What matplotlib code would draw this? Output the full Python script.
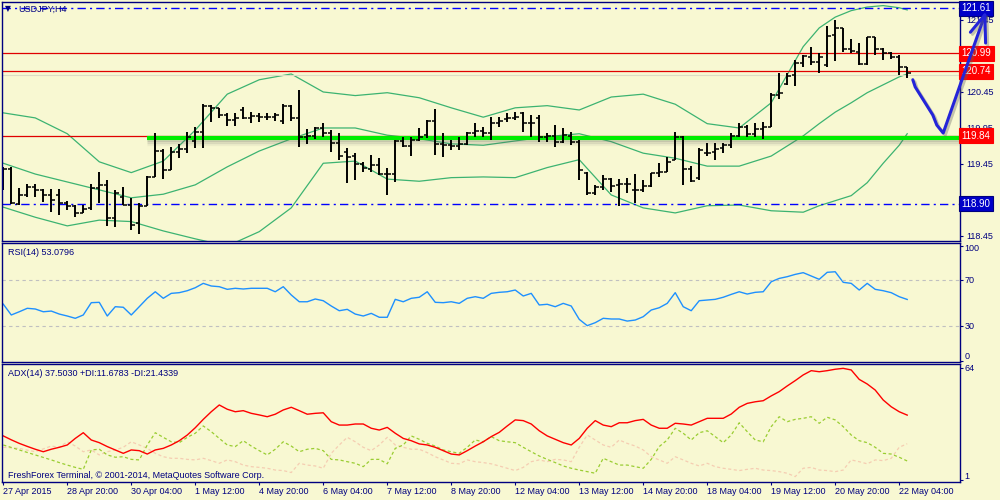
import numpy as np
import matplotlib
matplotlib.use("Agg")
import matplotlib.pyplot as plt
import matplotlib.patheffects as pe
from matplotlib.transforms import blended_transform_factory

plt.rcParams['font.family'] = ['Liberation Sans', 'DejaVu Sans']
plt.rcParams['font.size'] = 6.5

# ---- USDJPY H4 bars, 27 Apr 2015 .. 22 May 2015 ----
opens = [119.23, 119.38, 118.89, 119.02, 119.13, 119.09, 119.02, 119.02, 118.91, 118.87,
         118.77, 118.84, 119.12, 119.16, 118.70, 118.99, 118.88, 118.63, 118.87, 119.27,
         119.63, 119.37, 119.62, 119.66, 119.77, 119.89, 120.26, 120.23, 120.13, 120.06,
         120.20, 120.09, 120.12, 120.10, 120.10, 120.05, 120.26, 120.09, 119.83, 119.84,
         119.95, 119.88, 119.74, 119.62, 119.56, 119.45, 119.38, 119.44, 119.31, 119.31,
         119.77, 119.70, 119.78, 119.85, 120.05, 119.73, 119.71, 119.70, 119.73, 119.88,
         119.91, 119.88, 120.02, 120.08, 120.09, 120.16, 120.02, 120.09, 119.83, 119.84,
         119.76, 119.84, 119.76, 119.33, 119.05, 119.13, 119.24, 119.16, 119.17, 119.09,
         119.09, 119.14, 119.33, 119.34, 119.51, 119.83, 119.38, 119.26, 119.60, 119.62,
         119.67, 119.71, 119.84, 119.96, 119.87, 119.94, 119.96, 120.41, 120.56, 120.69,
         120.85, 120.94, 120.87, 120.83, 121.24, 121.34, 121.05, 121.01, 120.84, 121.21,
         121.05, 120.99, 120.94, 120.80]
highs = [119.41, 119.41, 119.12, 119.17, 119.17, 119.10, 119.10, 119.10, 118.94, 118.88,
         118.88, 119.17, 119.34, 119.23, 119.09, 119.13, 118.98, 118.91, 119.28, 119.88,
         119.66, 119.69, 119.73, 119.89, 119.96, 120.28, 120.27, 120.23, 120.16, 120.16,
         120.24, 120.17, 120.16, 120.16, 120.16, 120.28, 120.27, 120.48, 119.94, 119.96,
         120.02, 119.92, 119.88, 119.67, 119.60, 119.48, 119.58, 119.53, 119.39, 119.78,
         119.83, 119.83, 119.95, 120.06, 120.21, 119.88, 119.78, 119.83, 119.89, 120.02,
         119.96, 120.10, 120.10, 120.16, 120.17, 120.17, 120.13, 120.13, 119.88, 119.99,
         119.95, 119.89, 119.78, 119.34, 119.16, 119.30, 119.26, 119.24, 119.26, 119.31,
         119.23, 119.33, 119.46, 119.55, 119.89, 119.84, 119.42, 119.67, 119.74, 119.74,
         119.74, 119.88, 120.02, 119.99, 120.02, 120.03, 120.44, 120.71, 120.71, 120.89,
         120.96, 121.08, 120.99, 121.37, 121.45, 121.34, 121.19, 121.13, 121.21, 121.21,
         121.06, 121.01, 120.96, 120.80]
lows = [119.09, 118.89, 118.88, 118.99, 118.99, 118.92, 118.78, 118.74, 118.81, 118.71,
        118.77, 118.81, 118.91, 118.59, 118.58, 118.88, 118.53, 118.48, 118.87, 119.27,
        119.24, 119.37, 119.53, 119.60, 119.67, 119.67, 120.03, 120.09, 119.98, 119.98,
        120.08, 120.02, 120.03, 120.06, 120.05, 120.01, 120.05, 119.69, 119.73, 119.80,
        119.83, 119.62, 119.51, 119.19, 119.23, 119.34, 119.34, 119.30, 119.02, 119.20,
        119.69, 119.56, 119.77, 119.81, 119.58, 119.55, 119.64, 119.64, 119.71, 119.83,
        119.83, 119.78, 119.96, 120.03, 120.06, 119.89, 119.83, 119.76, 119.76, 119.69,
        119.74, 119.71, 119.23, 119.02, 119.02, 119.09, 119.06, 118.87, 119.05, 118.91,
        119.06, 119.13, 119.27, 119.34, 119.51, 119.16, 119.20, 119.23, 119.56, 119.51,
        119.60, 119.67, 119.83, 119.83, 119.83, 119.80, 119.96, 120.35, 120.55, 120.53,
        120.80, 120.83, 120.71, 120.80, 120.88, 121.01, 120.99, 120.83, 120.83, 120.96,
        120.89, 120.91, 120.69, 120.64]
closes = [119.38, 118.91, 119.02, 119.13, 119.09, 119.02, 118.95, 118.91, 118.87, 118.77,
          118.83, 119.12, 119.16, 118.70, 119.05, 118.88, 118.60, 118.87, 119.27, 119.63,
          119.37, 119.62, 119.66, 119.83, 119.89, 120.26, 120.23, 120.13, 120.06, 120.09,
          120.09, 120.12, 120.10, 120.10, 120.13, 120.26, 120.09, 119.83, 119.84, 119.95,
          119.88, 119.74, 119.56, 119.55, 119.45, 119.39, 119.44, 119.31, 119.31, 119.77,
          119.70, 119.78, 119.83, 120.05, 119.73, 119.71, 119.70, 119.73, 119.88, 119.91,
          119.88, 120.02, 120.05, 120.09, 120.10, 120.02, 120.02, 119.83, 119.84, 119.76,
          119.85, 119.76, 119.37, 119.05, 119.13, 119.24, 119.14, 119.17, 119.17, 119.09,
          119.14, 119.33, 119.34, 119.48, 119.83, 119.38, 119.21, 119.64, 119.60, 119.66,
          119.71, 119.84, 119.96, 119.87, 119.94, 119.96, 120.41, 120.44, 120.67, 120.85,
          120.95, 120.87, 120.94, 121.23, 121.34, 121.05, 121.02, 120.84, 121.21, 121.05,
          120.99, 120.94, 120.80, 120.71]

# Bollinger bands at these bar numbers
band_idx = [0, 4, 8, 12, 16, 20, 24, 28, 32, 36, 40, 44, 48, 52, 56, 60, 64, 68, 72, 76,
            80, 84, 88, 92, 96, 100, 102, 104, 106, 108, 110, 112, 113]
bb_upper = [120.16, 120.09, 119.87, 119.48, 119.33, 119.49, 119.92, 120.42, 120.62, 120.70,
            120.45, 120.40, 120.44, 120.37, 120.23, 120.10, 120.23, 120.26, 120.20, 120.38,
            120.42, 120.28, 120.01, 119.95, 120.30, 121.08, 121.34, 121.49, 121.58, 121.63,
            121.65, 121.62, 121.59]
bb_middle = [119.46, 119.31, 119.20, 119.09, 118.98, 119.03, 119.16, 119.41, 119.63, 119.80,
             119.95, 119.95, 119.85, 119.80, 119.73, 119.71, 119.77, 119.83, 119.87, 119.76,
             119.60, 119.53, 119.42, 119.42, 119.56, 119.84, 120.01, 120.17, 120.30, 120.44,
             120.55, 120.66, 120.70]
bb_lower = [118.85, 118.71, 118.59, 118.67, 118.65, 118.52, 118.41, 118.31, 118.51, 118.84,
            119.46, 119.49, 119.24, 119.21, 119.26, 119.27, 119.26, 119.40, 119.51, 119.02,
            118.84, 118.77, 118.87, 118.88, 118.80, 118.78, 118.87, 118.94, 119.01, 119.19,
            119.46, 119.71, 119.87]

rsi = [49.0, 39.6, 42.4, 45.4, 44.8, 42.4, 43.0, 40.4, 38.7, 36.7,
       39.6, 50.3, 50.6, 38.7, 46.8, 46.3, 39.6, 46.8, 54.1, 59.8,
       54.1, 58.4, 59.0, 60.7, 63.3, 67.1, 64.8, 64.2, 61.9, 62.8,
       62.2, 62.8, 62.8, 62.8, 59.8, 64.2, 57.0, 51.1, 51.1, 53.5,
       52.0, 47.4, 43.3, 44.5, 40.4, 38.7, 41.0, 37.6, 37.6, 53.2,
       51.1, 54.1, 55.0, 59.8, 50.6, 50.3, 51.1, 49.7, 54.1, 55.5,
       54.1, 58.4, 59.3, 59.8, 61.3, 56.1, 58.4, 48.3, 48.9, 46.8,
       49.7, 47.4, 35.8, 30.3, 32.9, 36.7, 36.1, 36.1, 34.3, 35.2,
       38.1, 43.9, 45.9, 49.7, 59.0, 46.8, 43.3, 52.0, 52.6, 53.2,
       55.0, 57.5, 59.8, 57.8, 59.3, 59.8, 68.5, 71.4, 72.9, 74.9,
       76.4, 73.5, 70.6, 76.7, 77.2, 68.0, 67.1, 61.3, 67.1, 61.9,
       60.7, 59.0, 55.5, 53.1]

adx = [25.8, 23.6, 21.6, 19.9, 18.3, 16.9, 18.3, 19.4, 20.7, 24.4,
       27.6, 23.5, 22.0, 19.8, 17.9, 16.0, 17.9, 17.5, 15.6, 17.9,
       18.8, 20.7, 23.1, 26.3, 30.4, 35.1, 39.4, 43.2, 40.8, 39.4,
       40.0, 38.5, 37.6, 36.6, 38.0, 40.4, 41.9, 40.0, 38.0, 38.5,
       38.8, 33.8, 31.9, 31.9, 32.5, 32.5, 30.1, 29.1, 30.6, 27.3,
       24.4, 23.1, 21.3, 20.7, 19.4, 17.5, 15.6, 15.1, 17.5, 20.1,
       22.5, 25.4, 27.8, 31.4, 34.8, 34.4, 32.5, 28.7, 25.8, 23.9,
       22.0, 20.7, 24.4, 30.1, 34.4, 31.9, 31.0, 33.2, 33.2, 34.4,
       35.1, 31.9, 30.1, 30.1, 32.9, 32.5, 31.9, 33.8, 35.7, 35.7,
       35.7, 38.1, 41.9, 44.1, 45.0, 45.6, 48.3, 50.7, 53.9, 56.9,
       60.1, 62.5, 61.9, 62.5, 63.3, 63.8, 62.9, 57.6, 55.0, 51.6,
       46.0, 42.2, 39.4, 37.5]
plus_di = [20.7, 19.3, 17.9, 16.5, 15.1, 13.7, 12.3, 10.8, 9.4, 8.1,
           7.0, 17.9, 18.3, 15.1, 13.8, 14.1, 12.6, 12.3, 20.7, 27.6,
           25.0, 22.5, 22.0, 25.0, 27.3, 31.4, 28.2, 24.4, 20.7, 19.8,
           23.1, 20.1, 17.5, 15.1, 18.3, 22.5, 20.1, 16.9, 18.3, 18.8,
           17.5, 12.6, 12.3, 11.3, 10.4, 8.5, 12.6, 12.6, 10.1, 18.8,
           20.7, 25.8, 23.9, 21.6, 20.1, 17.9, 16.9, 16.0, 19.4, 23.5,
           22.5, 25.4, 23.1, 22.5, 22.0, 19.4, 16.9, 14.5, 12.6, 10.8,
           8.9, 7.6, 6.6, 5.7, 4.8, 13.2, 11.3, 9.4, 9.4, 8.5,
           7.6, 12.6, 19.8, 23.5, 30.1, 27.3, 23.5, 27.6, 28.7, 25.4,
           22.0, 26.3, 33.2, 28.2, 23.5, 22.5, 31.0, 36.6, 33.8, 35.1,
           35.7, 36.6, 32.9, 36.3, 34.8, 31.0, 26.3, 23.1, 22.0, 19.4,
           16.0, 15.6, 13.8, 11.7]
minus_di = [19.4, 19.1, 18.8, 17.8, 16.9, 18.5, 20.1, 19.4, 22.5, 20.1,
            16.9, 17.9, 15.1, 16.9, 17.9, 19.4, 22.5, 20.7, 18.8, 16.0,
            14.1, 13.2, 13.2, 12.6, 12.3, 13.2, 11.9, 10.4, 12.3, 11.3,
            9.4, 8.5, 8.1, 7.6, 6.6, 6.3, 5.2, 10.4, 9.4, 8.9,
            7.6, 16.0, 20.7, 25.0, 22.5, 19.4, 17.5, 20.7, 25.0, 20.7,
            19.4, 18.3, 18.3, 16.4, 14.1, 12.3, 10.4, 10.1, 12.3, 11.3,
            10.8, 10.1, 8.9, 7.6, 6.3, 8.1, 11.3, 12.3, 11.3, 12.6,
            12.3, 11.3, 19.4, 26.3, 23.5, 20.7, 19.4, 23.5, 21.6, 20.1,
            17.9, 14.1, 12.3, 10.4, 14.1, 12.3, 10.4, 8.9, 10.4, 8.5,
            7.6, 7.0, 6.3, 7.0, 7.6, 6.6, 6.3, 5.7, 4.8, 2.9,
            7.6, 8.1, 6.6, 6.3, 5.7, 6.6, 12.3, 11.3, 10.1, 12.3,
            11.9, 13.2, 19.4, 21.4]

time_ticks = [0, 8, 16, 24, 32, 40, 48, 56, 64, 72, 80, 88, 96, 104, 112]
time_labels = ["27 Apr 2015", "28 Apr 20:00", "30 Apr 04:00", "1 May 12:00", "4 May 20:00",
               "6 May 04:00", "7 May 12:00", "8 May 20:00", "12 May 04:00", "13 May 12:00",
               "14 May 20:00", "18 May 04:00", "19 May 12:00", "20 May 20:00", "22 May 04:00"]
price_ticks = [118.45, 118.95, 119.45, 119.95, 120.45, 120.95, 121.45]

# horizontal levels
blue_levels = [121.61, 118.90]
red_levels = [120.99, 120.74, 119.84]
support = 119.81
support_start = 18

# hand drawn forecast arrow (bar number, price)
arrow_x = [113.7, 114.0, 116.2, 116.7, 117.5, 122.7]
arrow_y = [120.62, 120.52, 120.13, 119.99, 119.88, 121.52]
head_x = [120.9, 122.7, 122.8]
head_y = [121.28, 121.52, 121.13]

BG = '#f8f8d2'
NAVY = '#000080'
XLIM = (-0.16, 119.6)

fig = plt.figure(figsize=(10, 5), dpi=100, facecolor=BG)
ax = fig.add_axes([0.002, 0.518, 0.958, 0.478])
ax_rsi = fig.add_axes([0.002, 0.276, 0.958, 0.238])
ax_adx = fig.add_axes([0.002, 0.036, 0.958, 0.236])

for a in (ax, ax_rsi, ax_adx):
    a.set_facecolor(BG)
    a.set_xlim(*XLIM)
    for s in a.spines.values():
        s.set_color(NAVY)
        s.set_linewidth(1.0)
    a.yaxis.tick_right()
    a.tick_params(axis='y', direction='out', length=2.4, width=0.8, color=NAVY,
                  labelcolor=NAVY, pad=2)
    a.tick_params(axis='x', bottom=False, labelbottom=False)

# ---- price panel ----
x = np.arange(len(closes))
ax.plot(band_idx, bb_upper, color='#3cb371', lw=0.9)
ax.plot(band_idx, bb_middle, color='#3cb371', lw=0.9)
ax.plot(band_idx, bb_lower, color='#3cb371', lw=0.9)

for lv in blue_levels:
    ax.axhline(lv, color='#0000ff', lw=1.0, ls=(0, (6, 3, 1.5, 3)))
for lv in red_levels:
    ax.axhline(lv, color='#e00000', lw=0.9)
ax.axhline(120.69, color='#dcdcc4', lw=0.8)

# soft shadow under the support line
for off, al in ((-1.6, 0.22), (-3.0, 0.14), (-4.4, 0.07)):
    ax.plot([support_start, XLIM[1]], [support, support], color='#00ee00', lw=3.0,
            solid_capstyle='butt', alpha=0,
            path_effects=[pe.SimpleLineShadow(offset=(0, off), shadow_color='#606060',
                                              alpha=al, rho=1.0, linewidth=2.4)])
ax.plot([support_start, XLIM[1]], [support, support], color='#00ee00', lw=3.0,
        solid_capstyle='butt')

ax.vlines(x, lows, highs, color='black', lw=1.4)
ax.hlines(opens, x - 0.42, x, color='black', lw=1.1)
ax.hlines(closes, x, x + 0.42, color='black', lw=1.1)

shadow = [pe.SimpleLineShadow(offset=(1.5, -1.5), shadow_color='#606060', alpha=0.35),
          pe.Normal()]
ax.plot(arrow_x, arrow_y, color='#2424d8', lw=2.2, clip_on=False, zorder=20,
        solid_capstyle='round', solid_joinstyle='round', path_effects=shadow)
ax.plot(head_x, head_y, color='#2424d8', lw=2.2, clip_on=False, zorder=20,
        solid_capstyle='round', solid_joinstyle='round', path_effects=shadow)

ax.set_ylim(118.38, 121.70)
ax.set_yticks(price_ticks)
ax.set_yticklabels([f"{p:.2f}" for p in price_ticks])

tr = blended_transform_factory(ax.transAxes, ax.transData)
for lv in blue_levels:
    ax.text(1.0015, lv, f"{lv:.2f}", transform=tr, ha='left', va='center', color='white',
            fontsize=7, zorder=10, clip_on=False,
            bbox=dict(boxstyle='square,pad=0.25', fc='#0000c8', ec=NAVY, lw=0.8))
for lv in red_levels:
    ax.text(1.0015, lv, f"{lv:.2f}", transform=tr, ha='left', va='center', color='white',
            fontsize=7, zorder=10, clip_on=False,
            bbox=dict(boxstyle='square,pad=0.25', fc='#ff0000', ec='#ff0000', lw=0.8))

# ---- RSI panel ----
ax_rsi.plot(x, rsi, color='#1e90ff', lw=1.0)
for lv in (70, 30):
    ax_rsi.axhline(lv, color='#c0c0c0', lw=0.8, ls=(0, (3, 3)))
ax_rsi.set_ylim(-1.3, 102.2)
ax_rsi.set_yticks([0, 30, 70, 100])
ax_rsi.set_yticklabels([])
tr_r = blended_transform_factory(ax_rsi.transAxes, ax_rsi.transData)
for v, va in ((100, 'top'), (70, 'center'), (30, 'center'), (0, 'bottom')):
    ax_rsi.text(1.005, v + (1 if va == 'top' else 0), str(v), transform=tr_r, ha='left',
                va=va, color=NAVY)

# ---- ADX panel ----
ax_adx.plot(x, minus_di, color='#f5cdb2', lw=0.9, ls=(0, (2.5, 2)))
ax_adx.plot(x, plus_di, color='#9acd32', lw=0.9, ls=(0, (2.5, 2)))
ax_adx.plot(x, adx, color='#ff0000', lw=1.0)
ax_adx.set_ylim(-0.125, 66.25)
ax_adx.set_yticks([1, 64])
ax_adx.set_yticklabels([])
tr_a = blended_transform_factory(ax_adx.transAxes, ax_adx.transData)
ax_adx.text(1.005, 66.0, "64", transform=tr_a, ha='left', va='top', color=NAVY)
ax_adx.text(1.005, 0.3, "1", transform=tr_a, ha='left', va='bottom', color=NAVY)

ax_adx.tick_params(axis='x', bottom=True, labelbottom=True, direction='out', length=2.4,
                   width=0.8, color=NAVY, labelcolor=NAVY, pad=1.5)
ax_adx.set_xticks(time_ticks)
ax_adx.set_xticklabels(time_labels, ha='left')

# ---- captions ----
fig.text(0.005, 0.982, "\u25bc", fontsize=5.5, color=NAVY, va='center',
         family=['DejaVu Sans'])
fig.text(0.018, 0.982, "USDJPY,H4", color=NAVY, va='center')
fig.text(0.008, 0.495, "RSI(14) 53.0796", color=NAVY, va='center')
fig.text(0.008, 0.252, "ADX(14) 37.5030 +DI:11.6783 -DI:21.4339", color=NAVY, va='center')
fig.text(0.008, 0.050, "FreshForex Terminal, \u00a9 2001-2014, MetaQuotes Software Corp.",
         color=NAVY, va='center')

fig.savefig("out.png", dpi=100, facecolor=BG)
